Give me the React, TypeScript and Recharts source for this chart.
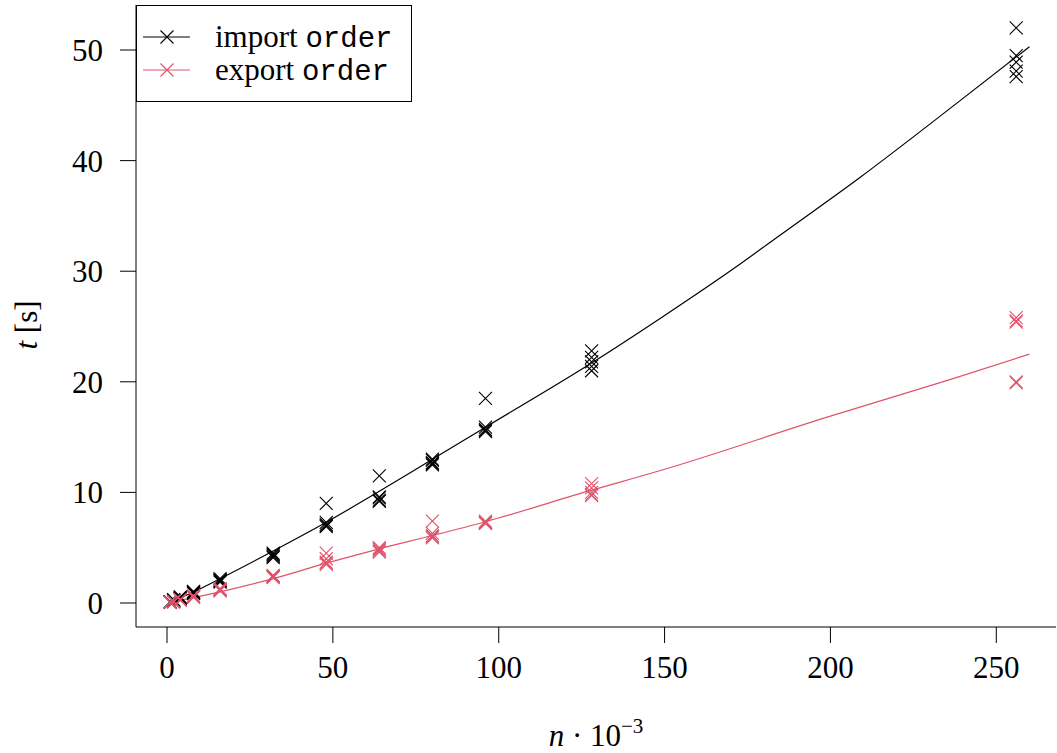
import { ComposedChart, XAxis, YAxis, Scatter, Line } from "recharts";

// n * 10^-3 at which the runs were measured
const nValues = [1, 2, 4, 8, 16, 32, 48, 64, 80, 96, 128, 256];

// five runs per n, seconds
const importTimes = [
  [0.08, 0.09, 0.1, 0.1, 0.12],
  [0.2, 0.2, 0.22, 0.25, 0.3],
  [0.4, 0.42, 0.45, 0.5, 0.55],
  [0.85, 0.9, 0.95, 1.0, 1.05],
  [1.9, 2.0, 2.05, 2.1, 2.2],
  [4.1, 4.2, 4.3, 4.4, 4.5],
  [9.0, 7.3, 7.1, 7.0, 6.9],
  [11.5, 9.6, 9.5, 9.3, 9.2],
  [13.0, 12.9, 12.7, 12.6, 12.5],
  [18.5, 15.9, 15.7, 15.6, 15.5],
  [22.8, 22.2, 21.8, 21.4, 21.0],
  [52.0, 49.5, 48.9, 48.1, 47.6]
];

const exportTimes = [
  [0.05, 0.05, 0.06, 0.06, 0.07],
  [0.1, 0.1, 0.12, 0.12, 0.15],
  [0.25, 0.25, 0.28, 0.3, 0.3],
  [0.5, 0.55, 0.6, 0.6, 0.65],
  [1.1, 1.15, 1.2, 1.2, 1.3],
  [2.3, 2.35, 2.4, 2.45, 2.5],
  [4.5, 4.0, 3.7, 3.6, 3.5],
  [5.0, 4.9, 4.8, 4.7, 4.6],
  [7.4, 6.3, 6.1, 6.0, 5.9],
  [7.4, 7.3, 7.3, 7.2, 7.2],
  [10.8, 10.4, 10.0, 9.8, 9.7],
  [25.8, 25.5, 25.4, 20.0, 19.9]
];

// fitted curves
const importFitN = [1, 8, 16, 32, 48, 64, 80, 96, 128, 149, 173, 185, 209, 239, 260];
const importFitT = [0.1, 1.0, 2.2, 4.7, 7.3, 10.1, 13.0, 15.9, 21.7, 25.8, 30.7, 33.3, 38.5, 45.4, 50.3];
const exportFitN = [1, 16, 32, 48, 64, 80, 96, 128, 149, 199, 236, 260];
const exportFitT = [0.05, 1.0, 2.2, 3.6, 4.9, 6.1, 7.35, 10.2, 12.0, 16.8, 20.2, 22.5];

const xTicks = [0, 50, 100, 150, 200, 250];
const yTicks = [0, 10, 20, 30, 40, 50];

const BLACK = "#000000";
const RED = "#DF536B";
const FONT = "'Liberation Serif', serif";
const MONO = "'Liberation Mono', monospace";

const toPoints = (times: number[][]) =>
  nValues.flatMap((n, i) => times[i].map((t) => ({ n, t })));

const importPoints = toPoints(importTimes);
const exportPoints = toPoints(exportTimes);
const importFit = importFitN.map((n, i) => ({ n, t: importFitT[i] }));
const exportFit = exportFitN.map((n, i) => ({ n, t: exportFitT[i] }));

const cross = (color: string) => (props: any) => {
  const { cx, cy } = props;
  const s = 6.5;
  return (
    <path
      d={`M${cx - s},${cy - s}L${cx + s},${cy + s}M${cx + s},${cy - s}L${cx - s},${cy + s}`}
      stroke={color}
      strokeWidth={1.1}
      fill="none"
    />
  );
};

const XLabel = () => (
  <text x={596} y={746} textAnchor="middle" fontFamily={FONT} fontSize={31} fill="#000">
    <tspan fontStyle="italic">n</tspan>
    <tspan> · 10</tspan>
    <tspan fontSize={21} dy={-13}>−3</tspan>
  </text>
);

const YLabel = () => (
  <text
    x={37}
    y={325}
    transform="rotate(-90, 37, 325)"
    textAnchor="middle"
    fontFamily={FONT}
    fontSize={31}
    fill="#000"
  >
    <tspan fontStyle="italic">t</tspan>
    <tspan> [s]</tspan>
  </text>
);

const LegendBox = () => (
  <svg
    width={276}
    height={97}
    style={{ position: "absolute", left: 136, top: 5 }}
  >
    <rect x={0.5} y={0.5} width={275} height={96} fill="#fff" stroke="#000" />
    {[
      { label: "import", color: BLACK, y: 32 },
      { label: "export", color: RED, y: 65 }
    ].map((row) => (
      <g key={row.label}>
        <line x1={7} x2={54} y1={row.y} y2={row.y} stroke={row.color} strokeWidth={1.1} />
        <path
          d={`M${24.5},${row.y - 6.5}L${37.5},${row.y + 6.5}M${37.5},${row.y - 6.5}L${24.5},${row.y + 6.5}`}
          stroke={row.color}
          strokeWidth={1.1}
        />
        <text x={79} y={row.y + 10} fontFamily={FONT} fontSize={31} fill="#000">
          {row.label}{" "}
          <tspan fontFamily={MONO} fontSize={29}>order</tspan>
        </text>
      </g>
    ))}
  </svg>
);

export default function App() {
  return (
    <div style={{ position: "absolute", left: 0, top: 0, width: 1057, height: 753 }}>
      <ComposedChart
        width={1057}
        height={753}
        margin={{ top: 5, right: 1, bottom: 0, left: 0 }}
      >
        <XAxis
          xAxisId="main"
          dataKey="n"
          type="number"
          domain={[-9.35, 268]}
          allowDataOverflow
          ticks={xTicks}
          height={126}
          tickSize={16}
          tickMargin={13}
          stroke="#000"
          tick={{ fill: "#000", fontFamily: FONT, fontSize: 31 }}
          label={<XLabel />}
        />
        <XAxis
          xAxisId="top"
          orientation="top"
          type="number"
          domain={[-9.35, 268]}
          height={0}
          tick={false}
          tickLine={false}
          stroke="#000"
        />
        <YAxis
          yAxisId="main"
          dataKey="t"
          type="number"
          domain={[-2.17, 54.07]}
          allowDataOverflow
          ticks={yTicks}
          width={136}
          tickSize={16}
          tickMargin={17}
          stroke="#000"
          tick={{ fill: "#000", fontFamily: FONT, fontSize: 31 }}
          label={<YLabel />}
        />
        <YAxis
          yAxisId="right"
          orientation="right"
          type="number"
          domain={[-2.17, 54.07]}
          width={0}
          tick={false}
          tickLine={false}
          stroke="#000"
        />
        <Line
          xAxisId="main"
          yAxisId="main"
          data={importFit}
          dataKey="t"
          type="monotone"
          stroke={BLACK}
          strokeWidth={1.2}
          dot={false}
          activeDot={false}
          isAnimationActive={false}
        />
        <Line
          xAxisId="main"
          yAxisId="main"
          data={exportFit}
          dataKey="t"
          type="monotone"
          stroke={RED}
          strokeWidth={1.2}
          dot={false}
          activeDot={false}
          isAnimationActive={false}
        />
        <Scatter
          xAxisId="main"
          yAxisId="main"
          data={importPoints}
          dataKey="t"
          shape={cross(BLACK)}
          isAnimationActive={false}
        />
        <Scatter
          xAxisId="main"
          yAxisId="main"
          data={exportPoints}
          dataKey="t"
          shape={cross(RED)}
          isAnimationActive={false}
        />
      </ComposedChart>
      <LegendBox />
    </div>
  );
}
